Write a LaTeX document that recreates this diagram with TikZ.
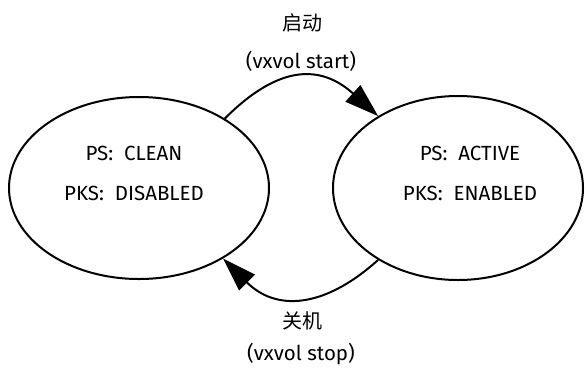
\documentclass[tikz,border=0pt]{standalone}
\usepackage{fontspec}
\setmainfont{Fira Sans}
\newfontfamily\cjk{Noto Sans CJK SC}
\usetikzlibrary{shapes.geometric,arrows.meta}
\begin{document}
\begin{tikzpicture}[x=1pt,y=-1pt,
  state/.style={draw,ellipse,line width=2pt,inner sep=0pt},
  lbl/.style={font=\fontsize{20.5}{24}\selectfont,inner sep=0pt},
  clbl/.style={font=\cjk\fontsize{20}{24}\selectfont,inner sep=0pt},
  trans/.style={line width=2pt,-{Triangle[length=34pt,width=22pt]}}]
\useasboundingbox (0,0) rectangle (585,367);
\node[state,minimum width=260pt,minimum height=182pt] (L) at (139,188) {};
\node[state,minimum width=250pt,minimum height=184pt] (R) at (458,188) {};
\node[lbl] (l1) at (134,153) {PS:\ \ CLEAN};
\node[lbl] (l2) at (134,193) {PKS:\ \ DISABLED};
\node[lbl] (r1) at (470,153) {PS:\ \ ACTIVE};
\node[lbl] (r2) at (470,193) {PKS:\ \ ENABLED};
\node[clbl] (t1) at (302,23) {启动};
\node[lbl] (t2) at (301,61) {(vxvol start)};
\node[clbl] (b1) at (302,321) {关机};
\node[lbl] (b2) at (301,354) {(vxvol stop)};
\draw[trans] (L.39) .. controls +(45:77pt) and +(138:77pt) .. (R.138);
\draw[trans] (R.222) .. controls +(222:74pt) and +(315:74pt) .. (L.320);
\end{tikzpicture}
\end{document}
